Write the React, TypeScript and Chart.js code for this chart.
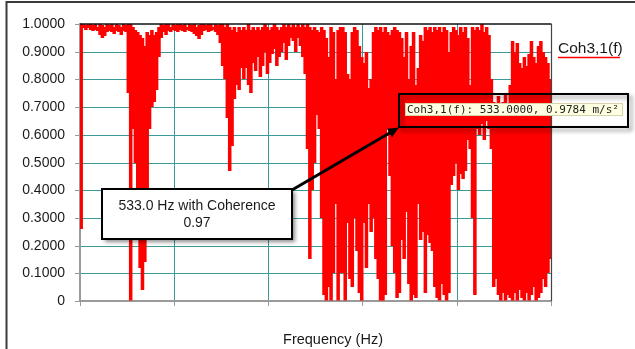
import React, { useEffect, useRef } from 'react';
import { Chart, registerables } from 'chart.js';

Chart.register(...registerables);

// ---- axis / data definitions ----
const FREQ_MIN_HZ = 0;
const FREQ_MAX_HZ = 800;
const FREQ_STEP_HZ = 4; // width of one spectral bin
const FREQ_GRID_STEP_HZ = 160;
const COH_MIN = 0;
const COH_MAX = 1;
const COH_STEP = 0.1;

const SERIES_NAME = 'Coh3,1(f)';
const X_TITLE = 'Frequency (Hz)';
const CALLOUT_LINES = ['533.0 Hz with Coherence', '0.97'];
const CURSOR_READOUT = 'Coh3,1(f): 533.0000, 0.9784 m/s\u00B2';

// upper envelope of coherence inside each 4 Hz bin
const cohUpper = [
  1.0, 1.0, 0.995, 1.0, 1.0, 0.995, 1.0, 0.99, 1.0, 0.995, 0.99, 1.0, 0.995, 1.0, 0.99, 1.0, 0.995, 0.99, 1.0, 0.995,
  1.0, 1.0, 0.99, 0.98, 0.97, 0.96, 0.95, 0.92, 0.97, 0.96, 0.98, 0.96, 0.97, 0.99,
  1.0, 0.995, 1.0, 1.0, 0.99, 1.0, 0.995, 1.0, 1.0, 0.995, 1.0, 0.99, 1.0, 0.995, 1.0, 0.99, 0.995, 1.0, 1.0, 0.995, 1.0, 1.0, 0.99, 1.0, 0.995,
  1.0, 1.0, 0.99, 1.0, 0.99, 0.98, 0.99, 0.97, 0.99, 0.98, 0.99, 0.98, 1.0, 0.98, 0.99, 0.98, 0.99, 0.98, 0.99, 1.0,
  0.99, 0.98, 0.99, 1.0, 0.99, 0.98, 0.99, 1.0, 0.99, 1.0, 0.99, 1.0, 0.99, 1.0, 0.99, 1.0, 0.99,
  1.0, 0.99, 0.98, 0.99, 0.98, 0.97, 0.99, 0.98, 0.95, 0.88, 0.99, 0.97, 0.80, 0.98, 0.99,
  0.99, 0.97, 0.82, 0.80, 0.97, 0.99, 0.98, 0.92, 0.88, 0.86, 0.90, 0.77, 0.80, 0.97, 0.99, 0.98, 0.99, 0.97, 0.99,
  0.97, 0.96, 0.98, 0.99, 0.98, 0.97, 0.95, 0.88, 0.97, 0.80, 0.92, 0.97, 0.78, 0.84, 0.96, 0.94, 0.99, 0.98, 0.99, 0.97,
  0.99, 0.98, 0.99, 0.97, 0.99, 0.98, 0.90, 0.97, 0.99, 0.98, 0.96, 0.99, 0.97, 0.99, 0.95, 0.78,
  0.99, 0.98, 0.99, 0.98, 1.0, 0.97, 0.99, 0.96, 0.80,
  0.72, 0.70, 0.74, 0.68, 0.72, 0.75, 0.70, 0.78, 0.94, 0.90, 0.93, 0.86, 0.84, 0.88, 0.85, 0.89, 0.94, 0.88, 0.86, 0.92,
  0.94, 0.90, 0.88, 0.86, 0.80,
];

// lower envelope of coherence inside each 4 Hz bin
const cohLower = [
  0.26, 0.985, 0.98, 0.985, 0.98, 0.975, 0.98, 0.975, 0.96, 0.95, 0.955, 0.97, 0.975, 0.97, 0.965, 0.975, 0.97, 0.96, 0.975, 0.97,
  0.75, 0.0, 0.62, 0.50, 0.32, 0.12, 0.04, 0.14, 0.30, 0.62, 0.70, 0.72, 0.76, 0.88,
  0.95, 0.97, 0.96, 0.975, 0.97, 0.98, 0.975, 0.97, 0.98, 0.975, 0.97, 0.98, 0.975, 0.97, 0.965, 0.955, 0.945, 0.96, 0.975, 0.98, 0.97, 0.975, 0.98, 0.97, 0.96,
  0.93, 0.85, 0.80, 0.66, 0.47, 0.56, 0.73, 0.78, 0.76, 0.84, 0.80, 0.84, 0.78, 0.75, 0.86, 0.83, 0.88, 0.81, 0.85, 0.90,
  0.82, 0.86, 0.89, 0.91, 0.85, 0.88, 0.90, 0.93, 0.87, 0.92, 0.95, 0.94, 0.90, 0.95, 0.92, 0.88, 0.82,
  0.55, 0.15, 0.40, 0.50, 0.67, 0.62, 0.30, 0.02, 0.0, 0.05, 0.0, 0.10, 0.35, 0.0, 0.10,
  0.10, 0.0, 0.28, 0.08, 0.05, 0.30, 0.18, 0.03, 0.0, 0.28, 0.12, 0.35, 0.25, 0.30, 0.15, 0.08, 0.0, 0.0, 0.02,
  0.62, 0.45, 0.20, 0.10, 0.01, 0.03, 0.22, 0.15, 0.32, 0.06, 0.0, 0.02, 0.01, 0.35, 0.22, 0.25, 0.03, 0.24, 0.21, 0.18,
  0.05, 0.01, 0.0, 0.06, 0.02, 0.0, 0.03, 0.42, 0.45, 0.50, 0.40, 0.46, 0.44, 0.47, 0.58, 0.55,
  0.30, 0.02, 0.62, 0.60, 0.64, 0.58, 0.65, 0.62, 0.55,
  0.05, 0.08, 0.02, 0.0, 0.03, 0.0, 0.02, 0.01, 0.0, 0.03, 0.0, 0.04, 0.01, 0.0, 0.03, 0.0, 0.02, 0.05, 0.0, 0.01,
  0.03, 0.08, 0.05, 0.10, 0.15,
];

const FONT = '"Liberation Sans", Arial, sans-serif';
const GRID_TEAL = '#3a9a9a';
const AXIS_GRAY = '#9a9a9a';

const overlayPlugin = {
  id: 'overlay',
  beforeDraw(chart: any) {
    const { ctx, width, height } = chart;
    ctx.save();
    ctx.fillStyle = '#ffffff';
    ctx.fillRect(0, 0, width, height);
    ctx.restore();
  },
  afterDatasetsDraw(chart: any) {
    const { ctx, chartArea: a } = chart;
    ctx.save();
    ctx.strokeStyle = '#111';
    ctx.lineWidth = 1.5;
    ctx.beginPath();
    ctx.moveTo(a.left, a.top);
    ctx.lineTo(a.right, a.top);
    ctx.stroke();
    ctx.strokeStyle = '#444';
    ctx.lineWidth = 1.2;
    ctx.beginPath();
    ctx.moveTo(a.right, a.top);
    ctx.lineTo(a.right, a.bottom);
    ctx.stroke();
    ctx.restore();
  },
  afterDraw(chart: any) {
    const { ctx, chartArea: a } = chart;
    ctx.save();

    // outer chart frame
    ctx.strokeStyle = '#3a3a3a';
    ctx.lineWidth = 2;
    ctx.beginPath();
    ctx.moveTo(6.5, 349);
    ctx.lineTo(6.5, 2);
    ctx.lineTo(635, 2);
    ctx.stroke();

    // x-axis title
    ctx.fillStyle = '#1a1a1a';
    ctx.font = `14.5px ${FONT}`;
    ctx.textAlign = 'center';
    ctx.textBaseline = 'middle';
    ctx.fillText(X_TITLE, 333, 340);

    // legend
    const lx = a.right + 6.5;
    ctx.font = `15.5px ${FONT}`;
    ctx.textAlign = 'left';
    ctx.fillText(SERIES_NAME, lx, 49);
    ctx.strokeStyle = '#ff0000';
    ctx.lineWidth = 1.5;
    ctx.beginPath();
    ctx.moveTo(lx, 57.5);
    ctx.lineTo(lx + 62, 57.5);
    ctx.stroke();

    // connector arrow between callout and cursor box
    const sx = 292, sy = 190, ex = 399, ey = 127.5;
    const ang = Math.atan2(ey - sy, ex - sx);
    ctx.strokeStyle = '#000';
    ctx.fillStyle = '#000';
    ctx.lineWidth = 3;
    ctx.beginPath();
    ctx.moveTo(sx, sy);
    ctx.lineTo(ex - 8 * Math.cos(ang), ey - 8 * Math.sin(ang));
    ctx.stroke();
    ctx.beginPath();
    ctx.moveTo(ex, ey);
    ctx.lineTo(ex - 11 * Math.cos(ang) + 5 * Math.sin(ang), ey - 11 * Math.sin(ang) - 5 * Math.cos(ang));
    ctx.lineTo(ex - 11 * Math.cos(ang) - 5 * Math.sin(ang), ey - 11 * Math.sin(ang) + 5 * Math.cos(ang));
    ctx.closePath();
    ctx.fill();

    // callout box (opaque)
    ctx.save();
    ctx.shadowColor = 'rgba(0,0,0,0.45)';
    ctx.shadowOffsetX = 3;
    ctx.shadowOffsetY = 3;
    ctx.shadowBlur = 4;
    ctx.fillStyle = '#ffffff';
    ctx.fillRect(102, 189, 190, 50);
    ctx.restore();
    ctx.strokeStyle = '#000';
    ctx.lineWidth = 2;
    ctx.strokeRect(102, 189, 190, 50);
    ctx.fillStyle = '#1a1a1a';
    ctx.font = `14px ${FONT}`;
    ctx.textAlign = 'center';
    ctx.textBaseline = 'middle';
    ctx.fillText(CALLOUT_LINES[0], 197, 206);
    ctx.fillText(CALLOUT_LINES[1], 197, 223);

    // cursor readout frame (transparent)
    ctx.save();
    ctx.shadowColor = 'rgba(0,0,0,0.45)';
    ctx.shadowOffsetX = 3;
    ctx.shadowOffsetY = 3;
    ctx.shadowBlur = 4;
    ctx.strokeStyle = '#000';
    ctx.lineWidth = 2;
    ctx.strokeRect(399, 94, 229, 33);
    ctx.restore();

    // readout label
    ctx.fillStyle = '#ffffe1';
    ctx.fillRect(405, 103.5, 217, 12);
    ctx.strokeStyle = '#d6d3a8';
    ctx.lineWidth = 1;
    ctx.strokeRect(405.5, 103.5, 217, 12);
    ctx.fillStyle = '#222';
    ctx.font = '11px "DejaVu Sans Mono", monospace';
    ctx.textAlign = 'left';
    ctx.textBaseline = 'middle';
    ctx.fillText(CURSOR_READOUT, 407, 110);

    ctx.restore();
  },
};

export default function App() {
  const canvasRef = useRef<HTMLCanvasElement | null>(null);

  useEffect(() => {
    if (!canvasRef.current) return;
    const points = cohUpper.map((hi, i) => ({
      x: FREQ_MIN_HZ + (i + 0.5) * FREQ_STEP_HZ,
      y: [cohLower[i], hi],
    }));

    const chart = new Chart(canvasRef.current, {
      type: 'bar',
      data: {
        datasets: [
          {
            label: SERIES_NAME,
            data: points as any,
            backgroundColor: '#ff0000',
            borderWidth: 0,
            categoryPercentage: 1,
            barPercentage: 1.5,
          },
        ],
      },
      plugins: [overlayPlugin],
      options: {
        responsive: false,
        maintainAspectRatio: false,
        animation: false,
        layout: { padding: { left: 0, top: 24, right: 83.5, bottom: 0 } },
        plugins: { legend: { display: false }, tooltip: { enabled: false }, title: { display: false } },
        scales: {
          x: {
            type: 'linear',
            min: FREQ_MIN_HZ,
            max: FREQ_MAX_HZ,
            offset: false,
            ticks: { display: false, stepSize: FREQ_GRID_STEP_HZ },
            grid: {
              offset: false,
              color: (c: any) =>
                c.tick && (c.tick.value === FREQ_MIN_HZ || c.tick.value === FREQ_MAX_HZ) ? 'rgba(0,0,0,0)' : GRID_TEAL,
              tickColor: AXIS_GRAY,
              tickLength: 5,
              lineWidth: 1,
            },
            border: { color: AXIS_GRAY, width: 2 },
            afterFit: (s: any) => {
              s.height = 48;
            },
          },
          y: {
            min: COH_MIN,
            max: COH_MAX,
            alignToPixels: true,
            ticks: {
              stepSize: COH_STEP,
              color: '#1a1a1a',
              font: { family: FONT, size: 14 },
              padding: 10,
              callback: (v: any) => (Number(v) === 0 ? '0' : Number(v).toFixed(4)),
            },
            grid: {
              color: (c: any) =>
                c.tick && (c.tick.value === COH_MIN || c.tick.value === COH_MAX) ? 'rgba(0,0,0,0)' : GRID_TEAL,
              tickColor: AXIS_GRAY,
              tickLength: 5,
              lineWidth: 1,
            },
            border: { color: AXIS_GRAY, width: 2 },
            afterFit: (s: any) => {
              s.width = 80;
            },
          },
        },
      } as any,
    });
    return () => chart.destroy();
  }, []);

  return (
    <div style={{ position: 'absolute', left: 0, top: 0, width: 635, height: 349, background: '#fff', overflow: 'hidden' }}>
      <canvas ref={canvasRef} width={635} height={349} style={{ display: 'block' }} />
    </div>
  );
}
